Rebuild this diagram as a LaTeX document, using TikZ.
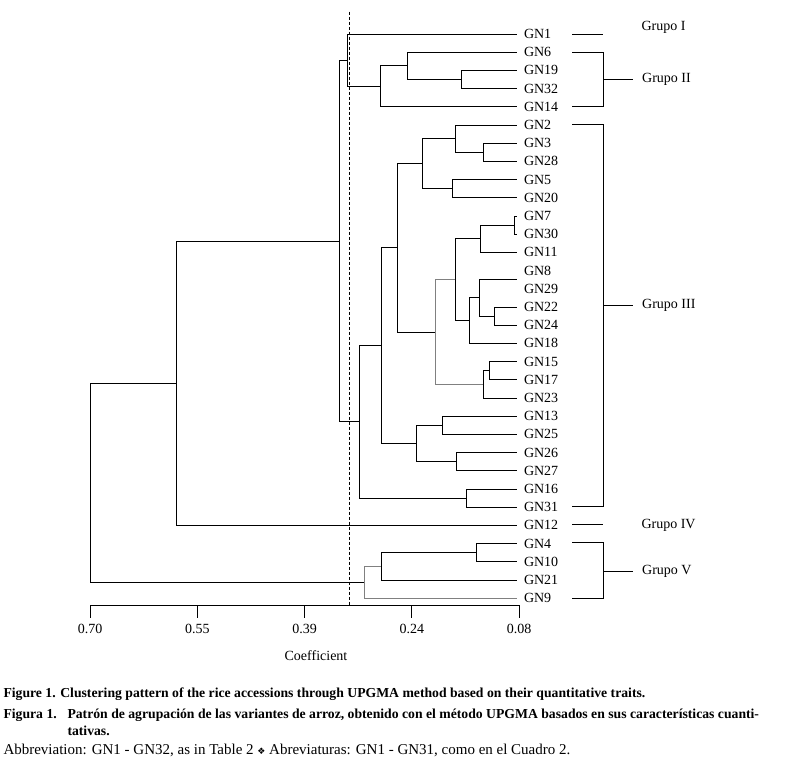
\documentclass[tikz,border=0pt]{standalone}
\usepackage{fontspec}
\setmainfont{Liberation Serif}
\newfontfamily\symfont{DejaVu Sans}
\usetikzlibrary{calc}

\begin{document}
\begin{tikzpicture}[x=1pt, y=-1pt,
        line width=1pt,
        leaf/.style={anchor=west, inner xsep=6.5pt, inner ysep=0pt, font=\fontsize{14}{14}\selectfont},
        grp/.style={anchor=west, inner xsep=9pt, inner ysep=0pt, font=\fontsize{14}{14}\selectfont},
        ticklabel/.style={inner sep=0pt, font=\fontsize{14}{14}\selectfont},
        capline/.style={anchor=base west, inner sep=0pt, font=\fontsize{13.7}{14}\selectfont\bfseries},
        noteline/.style={anchor=base west, inner sep=0pt, font=\fontsize{15}{15}\selectfont},
        cut/.style={dash pattern=on 3pt off 2pt, line width=0.8pt},
        hid/.style={draw=none}
    ]
    \useasboundingbox[fill=white] (0,0) rectangle (796,771);

    \def\lx{517}
    \def\dy{18.2}
    \def\ax{605}
    \def\tk{107.25}

    % leaves
    \foreach \g [count=\i from 0] in {1,6,19,32,14,2,3,28,5,20,7,30,11,8,29,22,24,18,15,17,23,13,25,26,27,16,31,12,4,10,21,9}
        \node[leaf] (GN\g) at (\lx, {34+\dy*\i}) {GN\g};

    % clusters: name/height/child/child/colour
    \foreach \id/\pos/\ca/\cb/\col in {
        a619/461.7/GN19/GN32/black,
        a6/407/GN6/a619/black,
        a14/380/a6/GN14/black,
        a1/347.3/GN1/a14/black,
        b328/483.7/GN3/GN28/black,
        b2/455.7/GN2/b328/black,
        b520/452.7/GN5/GN20/black,
        b25/422.3/b2/b520/black,
        c730/514.5/GN7/GN30/black,
        c11/480.7/c730/GN11/black,
        c829/517/GN8/GN29/hid,
        c2224/494.3/GN22/GN24/black,
        c8/479.3/c829/c2224/black,
        c18/469.3/c8/GN18/black,
        c7/455.3/c11/c18/black,
        d1517/489.3/GN15/GN17/black,
        d23/483.3/d1517/GN23/black,
        g/435.3/c7/d23/gray,
        b/397.3/b25/g/black,
        e1325/442.3/GN13/GN25/black,
        e2627/456.7/GN26/GN27/black,
        e13/416.7/e1325/e2627/black,
        f/381.7/b/e13/black,
        h1631/466.7/GN16/GN31/black,
        h/359.3/f/h1631/black,
        top/339.3/a1/h/black,
        k/176/top/GN12/black,
        v410/476.2/GN4/GN10/black,
        v21/381.4/v410/GN21/black,
        v9/364.2/v21/GN9/gray,
        root/90/k/v9/black}
    {
        \path let \p1=($(\ca)!.5!(\cb)$) in coordinate (\id) at (\pos pt,\y1);
        \draw[\col] (\id) |- (\ca) (\id) |- (\cb);
    }

    % cut-off line
    \draw[cut] (349.3,11.7) -- (349.3,\ax);

    % axis
    \draw (90,\ax) -- (519,\ax);
    \foreach \v [count=\i from 0] in {0.70,0.55,0.39,0.24,0.08}{
        \draw ({90+\tk*\i},\ax) -- ({90+\tk*\i},618);
        \node[ticklabel] (t\i) at ({90+\tk*\i},628.5) {\v};
    }
    \node[ticklabel] (coef) at (316,656) {Coefficient};

    % groups
    \def\bl{572.3}
    \def\br{603.3}
    \node[grp, inner xsep=0pt] (G1) at (641,27.5) {Grupo I};
    \draw (\bl,34) -- (\br,34);

    \node[grp] (G2) at (632.7,79.4) {Grupo II};
    \draw (\bl,52.2) -| (\br,106.7) -- (\bl,106.7);
    \draw (\br,79.4) -- (G2.west);

    \node[grp] (G3) at (632.7,305.5) {Grupo III};
    \draw (\bl,124.9) -| (\br,506.4) -- (\bl,506.4);
    \draw (\br,305.5) -- (G3.west);

    \node[grp, inner xsep=0pt] (G4) at (641,525) {Grupo IV};
    \draw (\bl,524.6) -- (\br,524.6);

    \node[grp] (G5) at (632.7,571) {Grupo V};
    \draw (\bl,542.7) -| (\br,598.2) -- (\bl,598.2);
    \draw (\br,571) -- (G5.west);

    % caption
    \node[capline] (cap1) at (3,697) {Figure 1. Clustering pattern of the rice accessions through UPGMA method based on their quantitative traits.};
    \node[capline] (cap2) at (3,718.5) {Figura 1.};
    \node[capline] (cap3) at (67,718.5) {Patrón de agrupación de las variantes de arroz, obtenido con el método UPGMA basados en sus características cuanti-};
    \node[capline] (cap4) at (67,735.5) {tativas.};
    \node[noteline] (note) at (3,754) {Abbreviation: GN1 - GN32, as in Table 2 {\symfont\fontsize{9}{9}\selectfont ❖} Abreviaturas: GN1 - GN31, como en el Cuadro 2.};
\end{tikzpicture}
\end{document}
